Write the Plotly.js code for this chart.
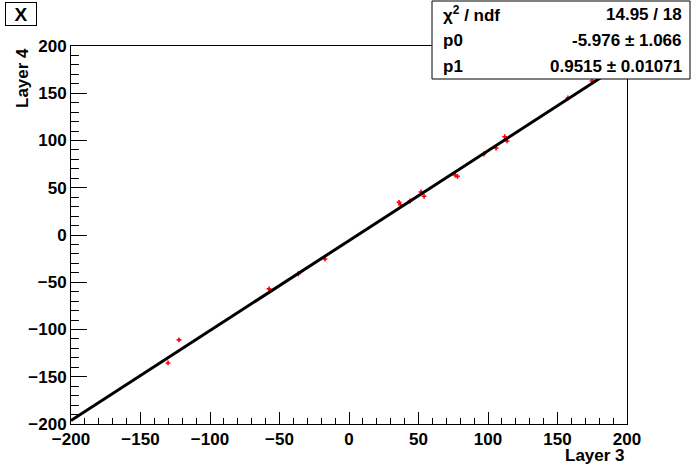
<!DOCTYPE html>
<html>
<head>
<meta charset="utf-8">
<script src="https://cdn.plot.ly/plotly-3.0.1.min.js"></script>
<style>html,body{margin:0;padding:0;background:#fff;}#chart{width:696px;height:472px;}</style>
</head>
<body>
<div id="chart"></div>
<script>
// Data points (Layer 3 vs Layer 4)
const layer3 = [-130.2, -122.3, -57.5, -36.5, -17.3, 36.0, 37.0, 43.9, 51.8, 54.0, 76.3, 78.0, 97.0, 105.8, 112.0, 113.7, 157.5, 174.8];
const layer4 = [-135.4, -111.0, -57.0, -41.0, -25.4, 34.5, 32.0, 36.0, 45.5, 41.0, 63.5, 62.0, 85.7, 92.0, 104.0, 99.5, 145.0, 163.0];

// Fit parameters (pol1)
const p0 = -5.976, p1 = 0.9515;
const fitRange = [-200, 200];
const fitX = fitRange;
const fitY = fitRange.map(x => p0 + p1 * x);

// Stats box texts
const statLabels = ["χ<sup>2</sup> / ndf", "p0", "p1"];
const statValues = ["14.95 / 18", "-5.976 ± 1.066", "0.9515 ± 0.01071"];

const W = 696, H = 472;
const L = 71, R = 627, T = 46, B = 424;
const px = x => (x - L) / (R - L);
const py = y => (B - y) / (B - T);

const font = {family: "Liberation Sans, Arial, sans-serif", size: 17, color: "#000", weight: "bold"};

const traces = [
  {x: layer3, y: layer4, mode: "markers", type: "scatter",
   marker: {color: "#ff0000", size: 4, symbol: "cross"}, hoverinfo: "skip"},
  {x: fitX, y: fitY, mode: "lines", type: "scatter",
   line: {color: "#000", width: 3}, hoverinfo: "skip"}
];

const annotations = [
  {text: "X", x: px(21), y: py(14), xref: "paper", yref: "paper", showarrow: false,
   font: {...font, size: 19}, bordercolor: "#000", borderwidth: 1, borderpad: 2, bgcolor: "#fff",
   xanchor: "center", yanchor: "middle", width: 26, height: 18},
  {text: "Layer 3", x: px(627), y: py(455), xref: "paper", yref: "paper", showarrow: false,
   font: font, xanchor: "right", yanchor: "middle"},
  {text: "Layer 4", x: px(22), y: py(46), xref: "paper", yref: "paper", showarrow: false,
   font: font, xanchor: "center", yanchor: "top", textangle: -90}
];
const rowY = [14, 40, 66];
statLabels.forEach((t, i) => {
  annotations.push({text: t, x: px(441), y: py(rowY[i]), xref: "paper", yref: "paper", showarrow: false,
    font: font, xanchor: "left", yanchor: "middle"});
  annotations.push({text: statValues[i], x: px(684), y: py(rowY[i]), xref: "paper", yref: "paper", showarrow: false,
    font: font, xanchor: "right", yanchor: "middle"});
});

const layout = {
  width: W, height: H,
  margin: {l: L, r: W - R, t: T, b: H - B, pad: 0},
  paper_bgcolor: "#fff", plot_bgcolor: "#fff",
  showlegend: false,
  font: font,
  xaxis: {range: [-200, 200], tick0: -200, dtick: 50, ticks: "inside", ticklen: 12, tickwidth: 1, tickcolor: "#000",
    showline: true, linecolor: "#000", linewidth: 1, mirror: true, showgrid: false, zeroline: false,
    tickfont: font, minor: {dtick: 10, ticks: "inside", ticklen: 6, tickcolor: "#000", showgrid: false}},
  yaxis: {range: [-200, 200], tick0: -200, dtick: 50, ticks: "inside", ticklen: 16, tickwidth: 1, tickcolor: "#000",
    showline: true, linecolor: "#000", linewidth: 1, mirror: true, showgrid: false, zeroline: false,
    tickfont: font, minor: {dtick: 10, ticks: "inside", ticklen: 8, tickcolor: "#000", showgrid: false}},
  shapes: [
    {type: "rect", xref: "paper", yref: "paper", x0: px(432), x1: px(690), y0: py(1), y1: py(79),
     fillcolor: "#fff", line: {color: "#000", width: 1}, layer: "above"}
  ],
  annotations: annotations
};

Plotly.newPlot("chart", traces, layout, {displayModeBar: false, staticPlot: true});
</script>
</body>
</html>
